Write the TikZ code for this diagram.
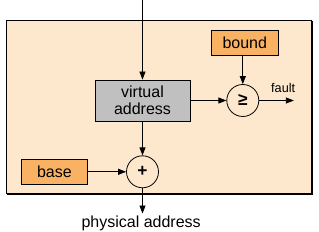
\documentclass[tikz,border=0pt]{standalone}
\usepackage{fontspec}
\setmainfont{Liberation Sans}
\usepackage{xcolor}
\usetikzlibrary{arrows.meta,positioning,calc}
\definecolor{framefill}{HTML}{FDE8CE}
\definecolor{regfill}{HTML}{F9B264}
\definecolor{addrfill}{HTML}{C0C0C0}
\tikzset{
  mmu register/.style={
    rectangle,
    draw=black,
    semithick,
    fill=regfill,
    minimum width=50pt,
    minimum height=18.75pt,
    font=\fontsize{12}{13}\selectfont,
    inner sep=2pt,
  },
  mmu address/.style={
    rectangle,
    draw=black,
    semithick,
    fill=addrfill,
    minimum width=71.25pt,
    minimum height=30.75pt,
    align=center,
    font=\fontsize{12}{13}\selectfont,
    inner sep=2pt,
  },
  mmu op/.style={circle, draw=black, semithick, fill=framefill, minimum size=24pt, inner sep=0pt,
    font=\fontsize{13}{14}\selectfont\bfseries},
  mmu arrow/.style={-{Triangle[length=6pt,width=4.5pt]}, semithick},
}

\begin{document}
\begin{tikzpicture}[node distance=20pt]
  \useasboundingbox (0,0) rectangle (239.25pt,-174pt);
  % frame with shadow on the bottom and right
  \fill[black] (5.5pt,-16pt) rectangle (235pt,-146.5pt);
  \draw[fill=framefill,line width=0.6pt] (4.5pt,-15pt) rectangle (233.6pt,-145.2pt);

  \node[mmu address] (va) at (106.875pt,-75.375pt) {virtual\\address};

  \node[mmu op,right=27pt of va] (geq) {≥};
  \node[mmu register,above=21pt of geq.north,anchor=south,xshift=1.5pt] (bound) {bound};

  \node[mmu op,below=25.5pt of va] (plus) {+};
  \node[mmu register,left=28.5pt of plus] (base) {base};

  \coordinate[above=60pt of va.north] (in);
  \coordinate[right=26pt of geq.east] (faultx);
  \coordinate[below=19pt of plus.south] (outx);
  \node[font=\fontsize{9.5}{10}\selectfont,above=2.5pt of faultx,xshift=-8pt] (fault) {fault};
  \node[below=-1.5pt of outx,xshift=-1pt,font=\fontsize{12}{13}\selectfont] (pa) {physical address};

  \draw[mmu arrow] (in) -- (va);
  \draw[mmu arrow] (va) -- (geq);
  \draw[mmu arrow] (bound.south -| geq.north) -- (geq);
  \draw[mmu arrow] (geq) -- (faultx);
  \draw[mmu arrow] (va) -- (plus);
  \draw[mmu arrow] (base) -- (plus);
  \draw[mmu arrow] (plus) -- (outx);
\end{tikzpicture}
\end{document}
